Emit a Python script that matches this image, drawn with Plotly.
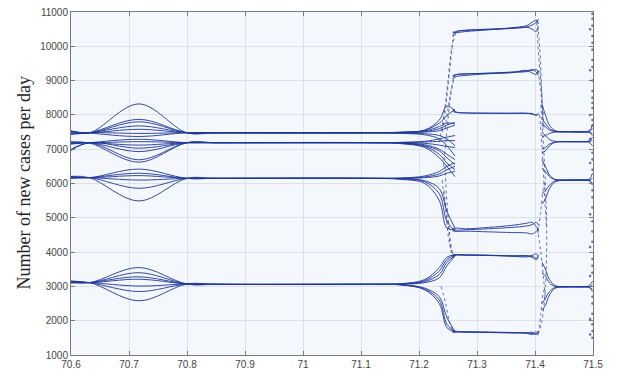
import plotly.graph_objects as go

# ---------------- data ----------------
X_TICKS = [70.6, 70.7, 70.8, 70.9, 71.0, 71.1, 71.2, 71.3, 71.4, 71.5]
X_TICK_TEXT = ["70.6", "70.7", "70.8", "70.9", "71", "71.1", "71.2", "71.3", "71.4", "71.5"]
Y_TICKS = [1000, 2000, 3000, 4000, 5000, 6000, 7000, 8000, 9000, 10000, 11000]
Y_TICK_TEXT = ["1000", "2000", "3000", "4000", "5000", "6000", "7000", "8000", "9000", "10000", "11000"]
Y_TITLE = "Number of new cases per day"

# Region A: bulges around mu = 70.72, then plateau, then divergence near 71.25
MU_A = [70.600, 70.632, 70.717, 70.800, 70.850, 71.120]
MU_B = [71.170, 71.210, 71.235, 71.248, 71.262]

CLUSTER_7480_A = [
    [7540, 7480, 8320, 7480, 7480, 7480],
    [7450, 7480, 7870, 7480, 7480, 7480],
    [7520, 7480, 7800, 7480, 7480, 7480],
    [7470, 7480, 7680, 7480, 7480, 7480],
    [7500, 7480, 7580, 7480, 7480, 7480],
    [7430, 7480, 7460, 7480, 7480, 7480],
    [7510, 7470, 7370, 7480, 7480, 7480],
]
CLUSTER_7480_B = [
    [7490, 7560, 7850, 8260, 8120],
    [7500, 7550, 7760, 7980, 8160],
    [7490, 7530, 7660, 7760, 7740],
    [7485, 7515, 7600, 7700, 7780],
    [7480, 7500, 7540, 7620, 7700],
    [7470, 7450, 7400, 7300, 7100],
    [7460, 7420, 7300, 7100, 6800],
]
CLUSTER_7190_A = [
    [7150, 7190, 7290, 7190, 7190, 7190],
    [7220, 7190, 7220, 7190, 7190, 7190],
    [7180, 7190, 7120, 7190, 7190, 7190],
    [7000, 7190, 7030, 7190, 7190, 7190],
    [7160, 7190, 6930, 7190, 7190, 7190],
    [6960, 7180, 6690, 7190, 7190, 7190],
    [7200, 7180, 6620, 7190, 7190, 7190],
]
CLUSTER_7190_B = [
    [7200, 7230, 7300, 7350, 7400],
    [7195, 7210, 7230, 7250, 7250],
    [7190, 7170, 7120, 7080, 7050],
    [7180, 7130, 7000, 6850, 6700],
    [7170, 7080, 6850, 6600, 6400],
    [7160, 7050, 6750, 6500, 6200],
    [7180, 7100, 6950, 6750, 6550],
]
CLUSTER_6150_A = [
    [6190, 6170, 6420, 6150, 6150, 6150],
    [6160, 6170, 6300, 6150, 6150, 6150],
    [6200, 6170, 6230, 6150, 6150, 6150],
    [6170, 6170, 6100, 6150, 6150, 6150],
    [6150, 6170, 5860, 6150, 6150, 6150],
    [6210, 6170, 5490, 6150, 6150, 6150],
]
CLUSTER_6150_B = [
    [6160, 6220, 6350, 6500, 6600],
    [6155, 6190, 6280, 6400, 6500],
    [6150, 6170, 6220, 6300, 6350],
    [6140, 6080, 5850, 5200, 4700],
    [6130, 6050, 5700, 4900, 4620],
    [6120, 6000, 5500, 4700, 4650],
]
CLUSTER_3060_A = [
    [3130, 3110, 3550, 3070, 3060, 3060],
    [3150, 3110, 3400, 3070, 3060, 3060],
    [3100, 3110, 3280, 3070, 3060, 3060],
    [3140, 3110, 3210, 3070, 3060, 3060],
    [3120, 3110, 3010, 3070, 3060, 3060],
    [3160, 3110, 2850, 3070, 3060, 3060],
    [3110, 3110, 2580, 3070, 3060, 3060],
]
CLUSTER_3060_B = [
    [3080, 3200, 3550, 3850, 3920],
    [3075, 3170, 3450, 3780, 3910],
    [3070, 3140, 3350, 3700, 3890],
    [3065, 3110, 3250, 3600, 3880],
    [3050, 2950, 2700, 2100, 1690],
    [3045, 2920, 2600, 1900, 1680],
    [3040, 2900, 2500, 1800, 1670],
]

# Region B plateaus (mu 71.26 - 71.41)
MU_P = [71.258, 71.265, 71.280, 71.320, 71.360, 71.385, 71.395, 71.402, 71.406]
PLATEAU_10500 = [
    [10300, 10420, 10460, 10490, 10540, 10600, 10700, 10760, 10650],
    [10380, 10440, 10470, 10500, 10520, 10560, 10620, 10700, 10790],
    [10420, 10400, 10430, 10480, 10530, 10560, 10500, 10430, 10550],
]
PLATEAU_9200 = [
    [9050, 9120, 9150, 9200, 9240, 9260, 9300, 9320, 9250],
    [9150, 9170, 9190, 9220, 9250, 9280, 9320, 9250, 9150],
    [9100, 9180, 9200, 9210, 9230, 9300, 9220, 9180, 9280],
]
PLATEAU_8050 = [
    [8150, 8080, 8060, 8050, 8050, 8045, 8040, 8000, 8050],
    [8100, 8070, 8055, 8048, 8045, 8050, 8020, 7990, 8020],
]
PLATEAU_4650 = [
    [4680, 4700, 4680, 4720, 4780, 4840, 4870, 4750, 4650],
    [4620, 4600, 4610, 4590, 4570, 4560, 4530, 4600, 4700],
    [4650, 4640, 4650, 4680, 4720, 4760, 4800, 4870, 4800],
]
PLATEAU_3900 = [
    [3920, 3930, 3920, 3910, 3890, 3880, 3850, 3780, 3850],
    [3900, 3920, 3915, 3905, 3880, 3860, 3900, 3950, 3880],
    [3880, 3910, 3910, 3900, 3890, 3900, 3880, 3820, 3900],
]
PLATEAU_1650 = [
    [1700, 1690, 1680, 1670, 1655, 1640, 1620, 1680, 1620],
    [1680, 1675, 1670, 1660, 1650, 1650, 1660, 1600, 1700],
    [1660, 1670, 1665, 1655, 1645, 1635, 1600, 1620, 1580],
]

# Region C (mu 71.41 - 71.50)
MU_C = [71.412, 71.418, 71.425, 71.435, 71.460, 71.488, 71.495, 71.499]
REGION_C = [
    [8300, 8000, 7700, 7540, 7510, 7510, 7560, 7700],
    [7900, 7750, 7600, 7520, 7510, 7500, 7480, 7400],
    [7700, 7650, 7560, 7515, 7510, 7510, 7530, 7600],
    [7350, 7400, 7460, 7500, 7505, 7505, 7490, 7450],
    [7500, 7400, 7280, 7230, 7220, 7220, 7260, 7350],
    [6900, 6950, 7100, 7200, 7215, 7215, 7180, 7100],
    [7000, 7050, 7150, 7210, 7220, 7220, 7230, 7250],
    [6700, 6500, 6250, 6120, 6100, 6100, 6150, 6300],
    [6450, 6350, 6200, 6110, 6100, 6100, 6080, 6000],
    [5700, 5800, 5950, 6080, 6100, 6100, 6110, 6150],
    [5400, 5550, 5850, 6050, 6095, 6100, 6060, 5950],
    [3700, 3500, 3200, 3020, 2990, 2990, 3050, 3150],
    [3400, 3300, 3100, 3000, 2990, 2985, 2950, 2850],
    [2500, 2650, 2850, 2970, 2990, 2990, 3000, 3050],
    [2300, 2450, 2750, 2950, 2985, 2990, 2970, 2900],
]

# Dotted transient arcs: (mu keys, value keys)
TRANSIENTS_MU = [
    [71.240, 71.246, 71.251, 71.256, 71.260],
    [71.235, 71.243, 71.250, 71.257, 71.264],
    [71.242, 71.248, 71.254, 71.262],
    [71.245, 71.252, 71.260],
    [71.245, 71.248, 71.252, 71.256, 71.262],
    [71.240, 71.246, 71.252, 71.258],
    [71.243, 71.250, 71.258],
    [71.238, 71.246, 71.252, 71.258],
    [71.404, 71.408, 71.410, 71.412, 71.414],
    [71.403, 71.406, 71.410, 71.413, 71.415],
    [71.405, 71.410, 71.412, 71.416],
    [71.410, 71.415, 71.418, 71.420, 71.420, 71.418, 71.412, 71.406],
    [71.408, 71.413, 71.417, 71.420],
    [71.404, 71.410, 71.415, 71.418],
    [71.406, 71.410, 71.414, 71.418],
    [71.405, 71.410, 71.414, 71.418],
]
TRANSIENTS_VAL = [
    [7500, 8200, 9000, 9800, 10450],
    [7200, 8000, 9000, 10000, 10400],
    [6500, 7500, 8500, 9200],
    [7600, 8400, 9100],
    [6500, 5500, 4700, 4000, 3900],
    [6100, 5200, 4300, 3950],
    [5800, 4800, 3900],
    [3000, 2500, 2000, 1700],
    [10780, 10000, 9300, 8500, 7600],
    [10700, 9800, 9000, 8300, 7900],
    [9300, 8700, 8200, 7600],
    [8300, 7000, 6000, 5000, 4000, 3000, 2000, 1650],
    [8000, 6800, 5500, 4700],
    [4700, 4000, 3200, 2600],
    [1620, 2200, 2800, 3000],
    [4550, 5200, 5800, 6100],
]

# Scattered points at the right edge
EDGE_MU_1 = 71.499
EDGE_VALUES_1 = [10950, 10800, 10600, 10300, 10100, 9900, 9600, 9400, 9000, 8700,
                 8500, 8350, 8200, 7850, 7700, 6900, 6700, 6400, 5800, 5600, 5300,
                 4900, 4600, 4300, 3800, 3600, 3400, 2700, 2500, 2200, 1900, 1700, 1500]
EDGE_MU_2 = 71.495
EDGE_VALUES_2 = [10500, 9300, 8000, 7300, 6600, 5100, 4150, 3300, 2050, 1600]

# ---------------- figure ----------------
LINE_COLOR = "#1f3897"
fig = go.Figure()


def add_line(xs, ys, dash="solid", width=1.0, opacity=0.9):
    fig.add_trace(go.Scatter(
        x=xs, y=ys, mode="lines",
        line=dict(color=LINE_COLOR, width=width, shape="spline", smoothing=1.0, dash=dash),
        opacity=opacity, hoverinfo="skip", showlegend=False))


for a_list, b_list in [(CLUSTER_7480_A, CLUSTER_7480_B), (CLUSTER_7190_A, CLUSTER_7190_B),
                       (CLUSTER_6150_A, CLUSTER_6150_B), (CLUSTER_3060_A, CLUSTER_3060_B)]:
    for ya, yb in zip(a_list, b_list):
        add_line(MU_A + MU_B, ya + yb)

for group in [PLATEAU_10500, PLATEAU_9200, PLATEAU_8050, PLATEAU_4650, PLATEAU_3900, PLATEAU_1650]:
    for ys in group:
        add_line(MU_P, ys)

for ys in REGION_C:
    add_line(MU_C, ys)

for xs, ys in zip(TRANSIENTS_MU, TRANSIENTS_VAL):
    add_line(xs, ys, dash="dot", width=1.0, opacity=0.7)

fig.add_trace(go.Scatter(
    x=[EDGE_MU_1] * len(EDGE_VALUES_1) + [EDGE_MU_2] * len(EDGE_VALUES_2),
    y=EDGE_VALUES_1 + EDGE_VALUES_2, mode="markers",
    marker=dict(color=LINE_COLOR, size=2.5, opacity=0.7),
    hoverinfo="skip", showlegend=False))

axis_common = dict(
    showline=True, linecolor="#7a7a7a", linewidth=1, mirror="ticks",
    ticks="inside", ticklen=4, tickcolor="#7a7a7a",
    showgrid=True, gridcolor="#dde1e7", gridwidth=1, zeroline=False,
    tickfont=dict(family="Liberation Sans, Arial", size=10, color="#444444"),
)

fig.update_layout(
    width=619, height=370,
    margin=dict(l=71, r=26, t=12, b=15),
    paper_bgcolor="white", plot_bgcolor="#f4f7fc",
    showlegend=False,
    xaxis=dict(range=[70.6, 71.5], tickvals=X_TICKS, ticktext=X_TICK_TEXT, automargin=False, **axis_common),
    yaxis=dict(range=[1000, 11000], tickvals=Y_TICKS, ticktext=Y_TICK_TEXT, automargin=False, **axis_common),
    annotations=[dict(
        text=Y_TITLE, textangle=-90, xref="paper", yref="paper",
        x=0, y=0.5, xanchor="center", yanchor="middle", xshift=-48, showarrow=False,
        font=dict(family="Liberation Serif, Times New Roman", size=18, color="#222222"))],
)

fig.write_html(
    "out.html",
    config={"displayModeBar": False},
    post_script="document.body.style.margin='0';document.body.style.overflow='hidden';",
)
